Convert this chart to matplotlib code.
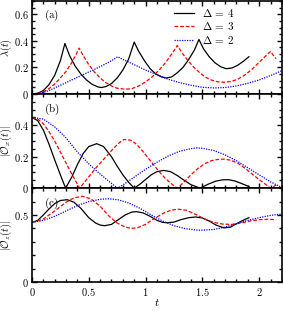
import numpy as np
import matplotlib
matplotlib.use("Agg")
import matplotlib.pyplot as plt
from matplotlib.ticker import MultipleLocator, AutoMinorLocator, FuncFormatter

plt.rcParams['mathtext.fontset'] = 'cm'
plt.rcParams['font.family'] = 'serif'
plt.rcParams['font.serif'] = ['DejaVu Serif']
plt.rcParams['font.size'] = 8

# --- data ---
# panel (a): lambda(t)
t_a4 = [0, 0.05, 0.10, 0.15, 0.20, 0.25, 0.29, 0.33, 0.38, 0.43, 0.48, 0.53, 0.58, 0.61, 0.65, 0.70,
        0.75, 0.80, 0.85, 0.90, 0.94, 0.99, 1.04, 1.09, 1.14, 1.185, 1.23, 1.28, 1.33, 1.38, 1.43,
        1.47, 1.51, 1.56, 1.61, 1.66, 1.71, 1.76, 1.81, 1.86, 1.91]
lam_a4 = [0, 0.005, 0.025, 0.07, 0.14, 0.25, 0.38, 0.29, 0.21, 0.15, 0.105, 0.072, 0.053, 0.048, 0.055, 0.078,
          0.12, 0.18, 0.26, 0.39, 0.32, 0.25, 0.19, 0.15, 0.128, 0.12, 0.128, 0.16, 0.2, 0.26, 0.33,
          0.41, 0.34, 0.28, 0.235, 0.205, 0.19, 0.195, 0.215, 0.245, 0.28]
t_a3 = [0, 0.05, 0.10, 0.15, 0.20, 0.25, 0.30, 0.35, 0.39, 0.415, 0.45, 0.50, 0.55, 0.60, 0.65, 0.70,
        0.75, 0.82, 0.88, 0.94, 1.0, 1.06, 1.12, 1.18, 1.23, 1.28, 1.32, 1.37, 1.42, 1.47, 1.52, 1.57,
        1.63, 1.69, 1.75, 1.81, 1.87, 1.93, 1.99, 2.05, 2.10, 2.125, 2.15]
lam_a3 = [0, 0.003, 0.015, 0.04, 0.075, 0.12, 0.17, 0.235, 0.3, 0.345, 0.29, 0.22, 0.165, 0.12, 0.085, 0.06,
          0.043, 0.035, 0.04, 0.06, 0.09, 0.13, 0.18, 0.24, 0.3, 0.365, 0.31, 0.255, 0.205, 0.165, 0.13, 0.107,
          0.092, 0.088, 0.093, 0.11, 0.14, 0.18, 0.23, 0.28, 0.32, 0.29, 0.265]
t_a2 = [0, 0.05, 0.1, 0.15, 0.2, 0.3, 0.4, 0.5, 0.6, 0.7, 0.755, 0.8, 0.9, 1.0, 1.1, 1.2, 1.3, 1.4,
        1.5, 1.6, 1.7, 1.8, 1.9, 2.0, 2.1, 2.2]
lam_a2 = [0, 0.003, 0.012, 0.025, 0.045, 0.085, 0.125, 0.165, 0.205, 0.25, 0.28, 0.26, 0.22, 0.18, 0.145,
          0.11, 0.085, 0.065, 0.05, 0.045, 0.048, 0.06, 0.08, 0.105, 0.138, 0.175]

# panel (b): |O_x(t)|
t_b4 = [0, 0.05, 0.10, 0.15, 0.20, 0.25, 0.296, 0.35, 0.40, 0.45, 0.50, 0.57, 0.63, 0.70, 0.75, 0.80,
        0.85, 0.90, 0.95, 1.0, 1.05, 1.10, 1.16, 1.22, 1.28, 1.34, 1.40, 1.48, 1.55, 1.62, 1.68, 1.73,
        1.79, 1.85, 1.91]
ox_b4 = [0.45, 0.43, 0.37, 0.28, 0.18, 0.085, 0, 0.07, 0.15, 0.22, 0.265, 0.283, 0.265, 0.2, 0.14, 0.085,
         0.038, 0, 0.025, 0.055, 0.085, 0.105, 0.113, 0.105, 0.08, 0.05, 0.022, 0, 0.025, 0.045, 0.053, 0.054,
         0.045, 0.028, 0.01]
t_b3 = [0, 0.05, 0.10, 0.15, 0.20, 0.25, 0.30, 0.35, 0.42, 0.47, 0.52, 0.57, 0.62, 0.67, 0.72, 0.77,
        0.81, 0.87, 0.92, 0.97, 1.02, 1.07, 1.12, 1.17, 1.22, 1.28, 1.34, 1.40, 1.46, 1.52, 1.58, 1.64,
        1.69, 1.75, 1.81, 1.87, 1.93, 1.99, 2.05, 2.10, 2.15]
ox_b3 = [0.45, 0.44, 0.41, 0.36, 0.30, 0.23, 0.16, 0.09, 0, 0.045, 0.09, 0.135, 0.175, 0.215, 0.255, 0.29,
         0.31, 0.305, 0.28, 0.24, 0.195, 0.15, 0.105, 0.065, 0.032, 0, 0.04, 0.085, 0.125, 0.155, 0.175, 0.183,
         0.185, 0.178, 0.16, 0.13, 0.095, 0.06, 0.028, 0, 0.02]
t_b2 = [0, 0.1, 0.2, 0.3, 0.4, 0.5, 0.6, 0.65, 0.7, 0.755, 0.8, 0.9, 1.0, 1.1, 1.2, 1.3, 1.4, 1.45,
        1.5, 1.6, 1.7, 1.8, 1.9, 2.0, 2.1, 2.2]
ox_b2 = [0.45, 0.44, 0.39, 0.32, 0.23, 0.155, 0.09, 0.06, 0.03, 0, 0.02, 0.07, 0.12, 0.165, 0.205, 0.235,
         0.252, 0.256, 0.254, 0.24, 0.212, 0.175, 0.13, 0.085, 0.04, 0.005]

# panel (c): |O_z(t)|
t_c4 = [0, 0.05, 0.1, 0.15, 0.2, 0.25, 0.31, 0.37, 0.43, 0.5, 0.56, 0.6, 0.64, 0.7, 0.76, 0.82, 0.88,
        0.92, 0.98, 1.04, 1.1, 1.15, 1.19, 1.25, 1.31, 1.38, 1.44, 1.5, 1.56, 1.62, 1.69, 1.75, 1.81,
        1.87, 1.91]
oz_c4 = [0.444, 0.46, 0.5, 0.545, 0.585, 0.608, 0.614, 0.595, 0.55, 0.48, 0.44, 0.425, 0.42, 0.43, 0.465,
         0.5, 0.522, 0.525, 0.515, 0.49, 0.46, 0.445, 0.442, 0.447, 0.465, 0.48, 0.485, 0.478, 0.455, 0.425,
         0.404, 0.41, 0.44, 0.465, 0.48]
t_c3 = [0, 0.1, 0.2, 0.3, 0.37, 0.444, 0.52, 0.6, 0.68, 0.75, 0.82, 0.874, 0.93, 1.0, 1.08, 1.16, 1.23,
        1.29, 1.36, 1.44, 1.52, 1.6, 1.68, 1.76, 1.84, 1.92, 2.0, 2.08, 2.15]
oz_c3 = [0.444, 0.47, 0.53, 0.595, 0.628, 0.639, 0.62, 0.565, 0.49, 0.44, 0.41, 0.40, 0.405, 0.43, 0.475,
         0.515, 0.537, 0.543, 0.535, 0.505, 0.47, 0.445, 0.432, 0.43, 0.44, 0.455, 0.465, 0.468, 0.465]
t_c2 = [0, 0.1, 0.2, 0.3, 0.4, 0.5, 0.6, 0.68, 0.76, 0.85, 0.95, 1.05, 1.15, 1.25, 1.35, 1.47, 1.6,
        1.7, 1.8, 1.9, 2.0, 2.1, 2.2]
oz_c2 = [0.444, 0.46, 0.49, 0.53, 0.57, 0.6, 0.617, 0.621, 0.613, 0.59, 0.55, 0.5, 0.455, 0.42, 0.398,
         0.386, 0.392, 0.41, 0.435, 0.46, 0.48, 0.497, 0.508]

legend_labels = [r'$\Delta\,=\,4$', r'$\Delta\,=\,3$', r'$\Delta\,=\,2$']
panel_tags = ['(a)', '(b)', '(c)']
ylabels = [r'$\lambda(t)$', r'$|\mathcal{O}_x(t)|$', r'$|\mathcal{O}_z(t)|$']

styles = [dict(color='black', ls='-'), dict(color='red', ls=(0, (3, 1.5))), dict(color='blue', ls=(0, (1, 1)))]

fig = plt.figure(figsize=(2.83, 3.11), dpi=100)
left, width = 0.113, 0.883
axa = fig.add_axes([left, 0.698, width, 0.299])
axb = fig.add_axes([left, 0.395, width, 0.303])
axc = fig.add_axes([left, 0.093, width, 0.302])
axes = [axa, axb, axc]

series = [
    [(t_a4, lam_a4), (t_a3, lam_a3), (t_a2, lam_a2)],
    [(t_b4, ox_b4), (t_b3, ox_b3), (t_b2, ox_b2)],
    [(t_c4, oz_c4), (t_c3, oz_c3), (t_c2, oz_c2)],
]

fmt = FuncFormatter(lambda v, p: f'${v:g}$')

for i, ax in enumerate(axes):
    for (tt, yy), st, lab in zip(series[i], styles, legend_labels):
        ax.plot(tt, yy, lw=0.9, label=lab, **st)
    ax.set_xlim(0, 2.2)
    ax.xaxis.set_major_locator(MultipleLocator(0.5))
    ax.xaxis.set_minor_locator(AutoMinorLocator())
    ax.yaxis.set_minor_locator(AutoMinorLocator())
    ax.tick_params(which='both', direction='in', top=True, right=True, width=1.0, labelsize=7.5)
    ax.tick_params(which='major', length=3.5, pad=2.5)
    ax.tick_params(which='minor', length=2)
    for sp in ax.spines.values():
        sp.set_linewidth(1.2)
    ax.yaxis.set_major_formatter(fmt)
    ax.set_ylabel(ylabels[i], fontsize=7.5)
    ax.yaxis.set_label_coords(-0.072, 0.5)
    ax.text(0.05, 0.84, r'$\mathrm{' + panel_tags[i] + '}$', transform=ax.transAxes,
            fontsize=8, va='center', ha='left')
    if i < 2:
        ax.tick_params(labelbottom=False)
    else:
        ax.xaxis.set_major_formatter(fmt)

axa.set_ylim(0, 0.7)
axa.yaxis.set_major_locator(MultipleLocator(0.2))
axb.set_ylim(0, 0.6)
axb.set_yticks([0, 0.2, 0.4, 0.6])
axb.set_yticklabels(['$0$', '$0.2$', '$0.4$', ''])
axc.set_ylim(0, 0.7)
axc.yaxis.set_major_locator(MultipleLocator(0.5))
axc.set_xlabel(r'$t$', fontsize=8.5)
axc.xaxis.set_label_coords(0.5, -0.15)

axa.legend(loc='upper left', bbox_to_anchor=(0.57, 0.935), frameon=False, fontsize=8,
           handlelength=1.8, labelspacing=0.12, handletextpad=0.7, borderaxespad=0, borderpad=0)

fig.savefig('out.png', dpi=100)
